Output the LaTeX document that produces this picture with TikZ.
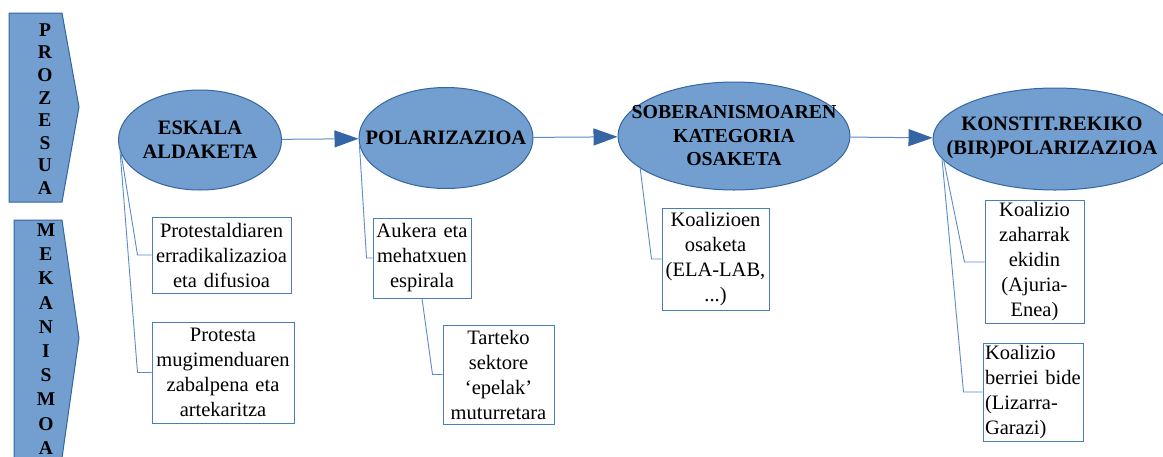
\documentclass[tikz,border=0pt]{standalone}
\usepackage{fontspec}
\setmainfont{Liberation Serif}
\usetikzlibrary{arrows.meta,calc,shapes.geometric}
\definecolor{stagefill}{HTML}{729FCF}
\definecolor{stageline}{HTML}{3465A4}
\definecolor{boxline}{HTML}{4A7EBB}
\definecolor{connline}{HTML}{5B8BC8}
\tikzset{
  fig/.style={font=\fontsize{20.5}{25}\selectfont},
  stage/.style={ellipse,draw=stageline,fill=stagefill,line width=1pt,inner sep=0pt},
  stagetxt/.style={font=\bfseries\fontsize{20.5}{24}\selectfont,align=center,inner sep=0pt},
  mech/.style={draw=boxline,line width=1pt,align=center,inner sep=2pt,
               font=\fontsize{20.5}{25}\selectfont},
  side/.style={draw=stageline,fill=stagefill,line width=1pt},
  sidetxt/.style={align=center,inner sep=0pt},
  ln/.style={-{Triangle[length=24pt,width=17pt,color=stageline]},draw=connline,line width=1pt},
  con/.style={draw=connline,line width=0.9pt},
}

\begin{document}
\begin{tikzpicture}[fig,x=1pt,y=-1pt]
\clip (0,0) rectangle (1163,456);

% side arrows
\draw[side] (9,13) -- (62,13) -- (79,107) -- (62,202) -- (9,202) -- cycle;
\node[sidetxt,font=\bfseries\fontsize{19.5}{22.6}\selectfont] (proz) at (45,109)
  {P\\R\\O\\Z\\E\\S\\U\\A};
\draw[side] (14,220) -- (62,220) -- (79,338) -- (62,458) -- (14,458) -- cycle;
\node[sidetxt,font=\bfseries\fontsize{19.5}{24.2}\selectfont] (meka) at (46,339)
  {M\\E\\K\\A\\N\\I\\S\\M\\O\\A};

% stages
\node[stage,minimum width=163pt,minimum height=100pt] (eska) at (200,140) {};
\node[stagetxt] (eskaT) at (eska) {ESKALA\\ALDAKETA};
\node[stage,minimum width=174pt,minimum height=101pt] (pol) at (446,138) {};
\node[stagetxt] (polT) at (pol) {POLARIZAZIOA};
\node[stage,minimum width=232pt,minimum height=108pt] (sob) at (734,136) {};
\node[stagetxt,font=\bfseries\fontsize{19.8}{23.5}\selectfont] (sobT) at (sob)
  {SOBERANISMOAREN\\KATEGORIA\\OSAKETA};
\node[stage,minimum width=244pt,minimum height=102pt] (kon) at (1055,139) {};
\node[stagetxt] (konT) at (1052,138) {KONSTIT.REKIKO\\(BIR)POLARIZAZIOA};

\draw[ln] (eska) -- (pol);
\draw[ln] (pol) -- (sob);
\draw[ln] (sob) -- (kon);

% mechanisms
\node[mech,text width=135pt,minimum height=76pt] (prot1) at (221.5,255)
  {Protestaldiaren\\erradikalizazioa\\eta difusioa};
\node[mech,text width=138pt,minimum height=101pt] (prot2) at (223,372.5)
  {Protesta\\mugimenduaren\\zabalpena eta\\artekaritza};
\node[mech,text width=94pt,minimum height=80pt] (auk) at (422,258)
  {Aukera eta\\mehatxuen\\espirala};
\node[mech,text width=107pt,minimum height=99pt] (tart) at (498.5,374.5)
  {Tarteko\\sektore\\‘epelak’\\muturretara};
\node[mech,text width=103pt,minimum height=102pt] (koal) at (715.5,259)
  {Koalizioen\\osaketa\\(ELA-LAB,\\...)};
\node[mech,text width=95pt,minimum height=122pt] (zah) at (1034.5,262)
  {Koalizio\\zaharrak\\ekidin\\(Ajuria-\\Enea)};
\node[mech,align=left,text width=96pt,minimum height=98pt] (berr) at (1033,392)
  {Koalizio\\berriei bide\\(Lizarra-\\Garazi)};

\draw[con] (eska.190) -- ($(prot1.west)+(-14,0)$) -- (prot1.west);
\draw[con] (eska.188) -- ($(prot2.west)+(-14,0)$) -- (prot2.west);
\draw[con] (pol.185) -- ($(auk.west)+(-6,0)$) -- (auk.west);
\draw[con] (auk.south) -- ($(tart.west)+(-10,0)$) -- (tart.west);
\draw[con] (sob.199) -- ($(koal.west)+(-10,0)$) -- (koal.west);
\draw[con] (kon.191) -- ($(zah.west)+(-20,0)$) -- (zah.west);
\draw[con] (kon.190) -- ($(berr.west)+(-19,0)$) -- (berr.west);

\end{tikzpicture}
\end{document}
